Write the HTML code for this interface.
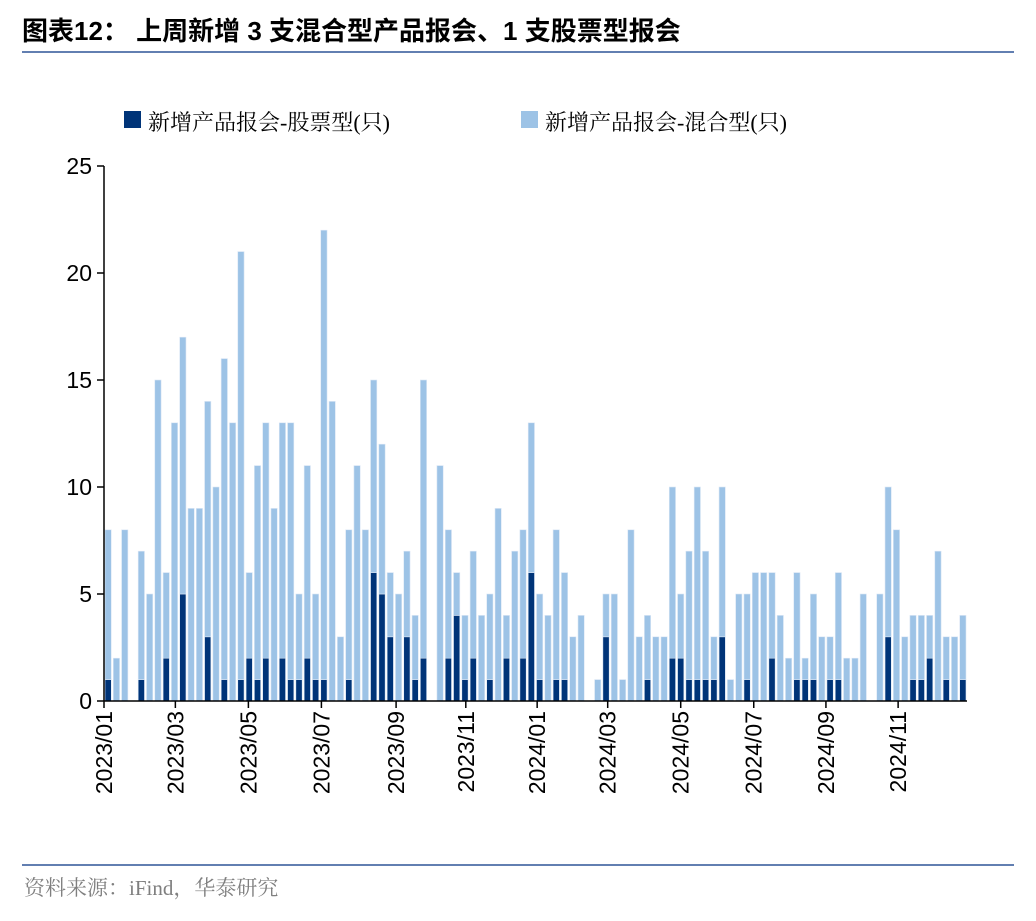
<!DOCTYPE html>
<html><head><meta charset="utf-8">
<style>
body{margin:0;background:#fff;width:1036px;height:916px;overflow:hidden;font-family:"Liberation Sans","Noto Sans CJK SC",sans-serif;}
</style></head>
<body>
<svg id="chart" width="1036" height="916" xmlns="http://www.w3.org/2000/svg">
<text x="22" y="40" font-size="26" font-weight="bold" fill="#000" font-family="'Liberation Sans','Noto Sans CJK SC',sans-serif">图表12：  上周新增 3 支混合型产品报会、1 支股票型报会</text>
<line x1="22" y1="52" x2="1014" y2="52" stroke="#2f5597" stroke-width="1.5"/>
<g>
<g><rect x="124" y="111" width="17" height="17" fill="#003478"/><text x="148" y="130" font-size="22" font-family="'Liberation Serif','Noto Serif CJK SC',serif">新增产品报会-股票型(只)</text></g>
<g><rect x="521" y="111" width="17" height="17" fill="#9dc3e6"/><text x="545" y="130" font-size="22" font-family="'Liberation Serif','Noto Serif CJK SC',serif">新增产品报会-混合型(只)</text></g>
</g>
<g id="plot"></g>
<line x1="22" y1="865" x2="1014" y2="865" stroke="#2f5597" stroke-width="1.5"/>
<text x="24" y="895" font-size="21" fill="#7f7f7f" font-family="'Liberation Serif','Noto Serif CJK SC',serif">资料来源：iFind，华泰研究</text>
</svg>
<script>
const totals = [8,2,8,0,7,5,15,6,13,17,9,9,14,10,16,13,21,6,11,13,9,13,13,5,11,5,22,14,3,8,11,8,15,12,6,5,
7,4,15,0,11,8,6,4,7,4,5,9,4,7,8,13,5,4,8,6,3,4,0,1,5,5,1,8,3,4,3,3,10,5,7,
10,7,3,10,1,5,5,6,6,6,4,2,6,2,5,3,3,6,2,2,5,0,5,10,8,3,4,4,4,7,3,3,4];
const stock = [1,0,0,0,1,0,0,2,0,5,0,0,3,0,1,0,1,2,1,2,0,2,1,1,2,1,1,0,0,1,0,0,6,5,3,0,
3,1,2,0,0,2,4,1,2,0,1,0,2,0,2,6,1,0,1,1,0,0,0,0,3,0,0,0,0,1,0,0,2,2,1,
1,1,1,3,0,0,1,0,0,2,0,0,1,1,1,0,1,1,0,0,0,0,0,3,0,0,1,1,2,0,1,0,1];
const mixed = totals.map((t,i)=>t-stock[i]);
const yTicks = [0,5,10,15,20,25];
const xTickLabels = ["2023/01","2023/03","2023/05","2023/07","2023/09","2023/11","2024/01","2024/03","2024/05","2024/07","2024/09","2024/11"];
const xTickWeeks = [0,8.6,17.4,26.2,35.2,43.6,52.2,60.7,69.5,78.3,87,95.7];

const NS="http://www.w3.org/2000/svg";
const g=document.getElementById('plot');
const X0=104, X1=967, Y0=701, Y1=166, N=totals.length;
const band=(X1-X0)/N;
const x=i=>X0+band*i;
const y=v=>Y0-(v/25)*(Y0-Y1);
function mk(t,a){const e=document.createElementNS(NS,t);for(const k in a)e.setAttribute(k,a[k]);g.appendChild(e);return e;}
for(let i=0;i<N;i++){
  const bx=x(i)+1, bw=band-2;
  if(stock[i]>0){
    const r=mk('rect',{x:bx,y:y(stock[i]),width:bw,height:Y0-y(stock[i]),fill:'#003478',stroke:'#dbe7f5','stroke-width':0.6});
    
    
  }
  if(mixed[i]>0){
    const r=mk('rect',{x:bx,y:y(stock[i]+mixed[i]),width:bw,height:y(stock[i])-y(stock[i]+mixed[i]),fill:'#9dc3e6',stroke:'#dbe7f5','stroke-width':0.6});
    
    
  }
}
const ya=mk('line',{x1:X0,y1:Y1,x2:X0,y2:Y0,stroke:'#000','stroke-width':1.5});


yTicks.forEach(v=>{
  mk('line',{x1:X0-7,y1:y(v),x2:X0,y2:y(v),stroke:'#000','stroke-width':1.5});
  const t=mk('text',{x:X0-12,y:y(v)+8,'font-size':23,'text-anchor':'end','font-family':'Liberation Sans, sans-serif'});
  t.textContent=v;
  
  
});
const xa=mk('line',{x1:X0,y1:Y0,x2:X1,y2:Y0,stroke:'#000','stroke-width':1.5});


xTickLabels.forEach((lab,k)=>{
  const px=x(xTickWeeks[k]);
  mk('line',{x1:px,y1:Y0,x2:px,y2:Y0+7,stroke:'#000','stroke-width':1.5});
  const t=mk('text',{x:0,y:0,'font-size':23,'text-anchor':'end','font-family':'Liberation Sans, sans-serif',transform:`translate(${px+8},${Y0+10}) rotate(-90)`});
  t.textContent=lab;
  
  
});
</script>
</body></html>
